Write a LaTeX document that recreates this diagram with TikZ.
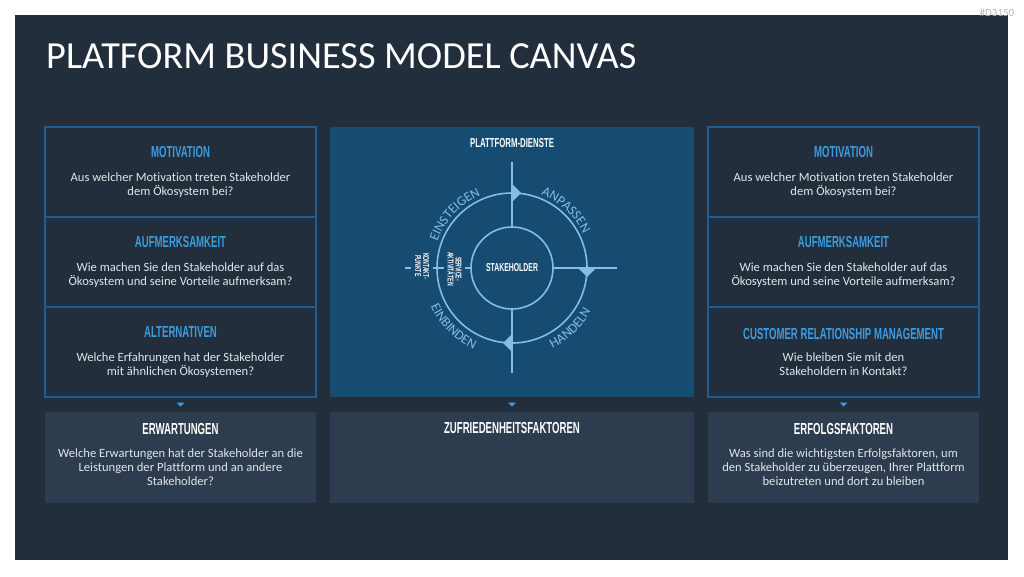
\documentclass[tikz,border=0pt]{standalone}
\usepackage{fontspec}
\setmainfont{Carlito}[Ligatures=NoCommon]
\newfontfamily\headfont[FakeStretch=0.6]{Liberation Sans}
\usepackage{xcolor}
\usetikzlibrary{positioning,decorations.text}

\definecolor{panelbg}{HTML}{222E3C}
\definecolor{boxline}{HTML}{1E5D94}
\definecolor{headblue}{HTML}{3D9BDF}
\definecolor{centerbg}{HTML}{164B72}
\definecolor{footbg}{HTML}{2D3C4F}
\definecolor{ringblue}{HTML}{82BEE8}
\definecolor{bodygray}{HTML}{E2E5E9}

\begin{document}
\begin{tikzpicture}[
  x=1pt, y=-1pt,
  cbox/.style={rectangle, draw=boxline, line width=1.2pt, fill=panelbg, minimum width=271pt, minimum height=90pt, inner sep=0pt, outer sep=0pt},
  fbox/.style={rectangle, fill=footbg, minimum width=271pt, minimum height=91pt, inner sep=0pt, outer sep=0pt},
  head/.style={font=\headfont\bfseries\fontsize{16}{16}\selectfont, text=headblue, inner sep=0pt},
  fhead/.style={head, text=white},
  body/.style={font=\fontsize{12.6}{14}\selectfont, text=bodygray, align=center, inner sep=0pt, anchor=north},
  spoke/.style={draw=ringblue, line width=1.6pt},
  vlbl/.style={font=\headfont\bfseries\fontsize{8.5}{8}\selectfont, text=white, align=center, rotate=-90, fill=centerbg, inner xsep=1pt, inner ysep=4pt},
  marker/.style={fill=headblue},
  ringtxt/.style={decorate, decoration={text along path, text align=center, text color=ringblue, text={|\fontsize{13.5}{14}\selectfont|#1}}},
]
\fill[white] (0,0) rectangle (1024,576);
\useasboundingbox (0,0) rectangle (1024,576);

% Background and title
\node[fill=panelbg, minimum width=993pt, minimum height=545pt, anchor=north west, inner sep=0pt, outer sep=0pt] (panel) at (15,15) {};
\node[anchor=base west, font=\fontsize{38.3}{38}\selectfont, text=white, inner sep=0pt] (title) at (46,68) {PLATFORM BUSINESS MODEL CANVAS};
\node[font=\fontsize{11}{11}\selectfont, text=gray!55] (tag) at (997,13) {\#D3150};

% Left column
\node[cbox, anchor=north west] (lmot) at (45,127) {};
\node[cbox, below=0pt of lmot] (lauf) {};
\node[cbox, below=0pt of lauf] (lalt) {};
\node[head] (lmot-h) at ([yshift=-25pt]lmot.north) {MOTIVATION};
\node[body] (lmot-t) at ([yshift=-46pt]lmot.north) {Aus welcher Motivation treten Stakeholder\\dem Ökosystem bei?};
\node[head] (lauf-h) at ([yshift=-25pt]lauf.north) {AUFMERKSAMKEIT};
\node[body] (lauf-t) at ([yshift=-46pt]lauf.north) {Wie machen Sie den Stakeholder auf das\\Ökosystem und seine Vorteile aufmerksam?};
\node[head] (lalt-h) at ([yshift=-25pt]lalt.north) {ALTERNATIVEN};
\node[body] (lalt-t) at ([yshift=-46pt]lalt.north) {Welche Erfahrungen hat der Stakeholder\\mit ähnlichen Ökosystemen?};

% Right column
\node[cbox, anchor=north west] (rmot) at (708,127) {};
\node[cbox, below=0pt of rmot] (rauf) {};
\node[cbox, below=0pt of rauf] (rcrm) {};
\node[head] (rmot-h) at ([yshift=-25pt]rmot.north) {MOTIVATION};
\node[body] (rmot-t) at ([yshift=-46pt]rmot.north) {Aus welcher Motivation treten Stakeholder\\dem Ökosystem bei?};
\node[head] (rauf-h) at ([yshift=-25pt]rauf.north) {AUFMERKSAMKEIT};
\node[body] (rauf-t) at ([yshift=-46pt]rauf.north) {Wie machen Sie den Stakeholder auf das\\Ökosystem und seine Vorteile aufmerksam?};
\node[head] (rcrm-h) at ([yshift=-27pt]rcrm.north) {CUSTOMER RELATIONSHIP MANAGEMENT};
\node[body] (rcrm-t) at ([yshift=-46pt]rcrm.north) {Wie bleiben Sie mit den\\Stakeholdern in Kontakt?};

% Platform services
\node[rectangle, fill=centerbg, minimum width=364pt, minimum height=270pt, anchor=north west, inner sep=0pt, outer sep=0pt] (pd) at (330,127) {};
\node[fhead, font=\headfont\bfseries\fontsize{13}{13}\selectfont] (pd-h) at ([yshift=-16pt]pd.north) {PLATTFORM-DIENSTE};
\node[circle, draw=ringblue, line width=1.6pt, minimum size=150pt, inner sep=0pt, outer sep=0pt] (ring) at (512,268) {};
\node[circle, draw=ringblue, line width=1.6pt, minimum size=82pt, inner sep=0pt, outer sep=0pt, text=white, font=\headfont\bfseries\fontsize{11.5}{11}\selectfont] (sh) at (512,268) {STAKEHOLDER};
\coordinate (vtop) at (512,162);
\coordinate (vbot) at (512,373);
\coordinate (hright) at (617,268);
\coordinate (hleft) at (405,268);
\draw[spoke] (vtop) -- (sh.north);
\draw[spoke] (sh.south) -- (vbot);
\draw[spoke] (sh.east) -- (hright);
\draw[spoke] (hleft) -- (sh.west);
\node[vlbl] (kp) at (422,266) {KONTAKT-\\PUNKTE};
\node[vlbl] (sa) at (454.5,269) {SERVICE-\\AKTIVITÄTEN};

% Ring arrows
\fill[ringblue] ([yshift=9pt]ring.north) -- ([yshift=-9pt]ring.north) -- ([xshift=9pt]ring.north) -- cycle;
\fill[ringblue] ([xshift=-9pt]ring.east) -- ([xshift=9pt]ring.east) -- ([yshift=-9pt]ring.east) -- cycle;
\fill[ringblue] ([yshift=9pt]ring.south) -- ([yshift=-9pt]ring.south) -- ([xshift=-9pt]ring.south) -- cycle;

% Ring labels
\begin{scope}[y=1pt]
\path[ringtxt=EINSTEIGEN] ([shift={(172:79pt)}]ring.center) arc[start angle=172, end angle=102, radius=79];
\path[ringtxt=ANPASSEN] ([shift={(82:79pt)}]ring.center) arc[start angle=82, end angle=12, radius=79];
\path[ringtxt=HANDELN] ([shift={(-81:90pt)}]ring.center) arc[start angle=-81, end angle=-11, radius=90];
\path[ringtxt=EINBINDEN] ([shift={(190:90pt)}]ring.center) arc[start angle=190, end angle=260, radius=90];
\end{scope}

% Bottom row
\node[fbox, anchor=north west] (erw) at (45,412) {};
\node[fbox, anchor=north west, minimum width=364pt] (zuf) at (330,412) {};
\node[fbox, anchor=north west] (erf) at (708,412) {};
\node[fhead] (erw-h) at ([yshift=-17pt]erw.north) {ERWARTUNGEN};
\node[body] (erw-t) at ([yshift=-37pt]erw.north) {Welche Erwartungen hat der Stakeholder an die\\Leistungen der Plattform und an andere\\Stakeholder?};
\node[fhead] (zuf-h) at ([yshift=-16pt]zuf.north) {ZUFRIEDENHEITSFAKTOREN};
\node[fhead] (erf-h) at ([yshift=-17pt]erf.north) {ERFOLGSFAKTOREN};
\node[body] (erf-t) at ([yshift=-37pt]erf.north) {Was sind die wichtigsten Erfolgsfaktoren, um\\den Stakeholder zu überzeugen, Ihrer Plattform\\beizutreten und dort zu bleiben};

% Markers
\fill[marker] ([xshift=-4pt,yshift=-5.5pt]lalt.south) -- ++(8,0) -- ++(-4,4) -- cycle;
\fill[marker] ([xshift=-4pt,yshift=-5.5pt]pd.south) -- ++(8,0) -- ++(-4,4) -- cycle;
\fill[marker] ([xshift=-4pt,yshift=-5.5pt]rcrm.south) -- ++(8,0) -- ++(-4,4) -- cycle;

\end{tikzpicture}
\end{document}
